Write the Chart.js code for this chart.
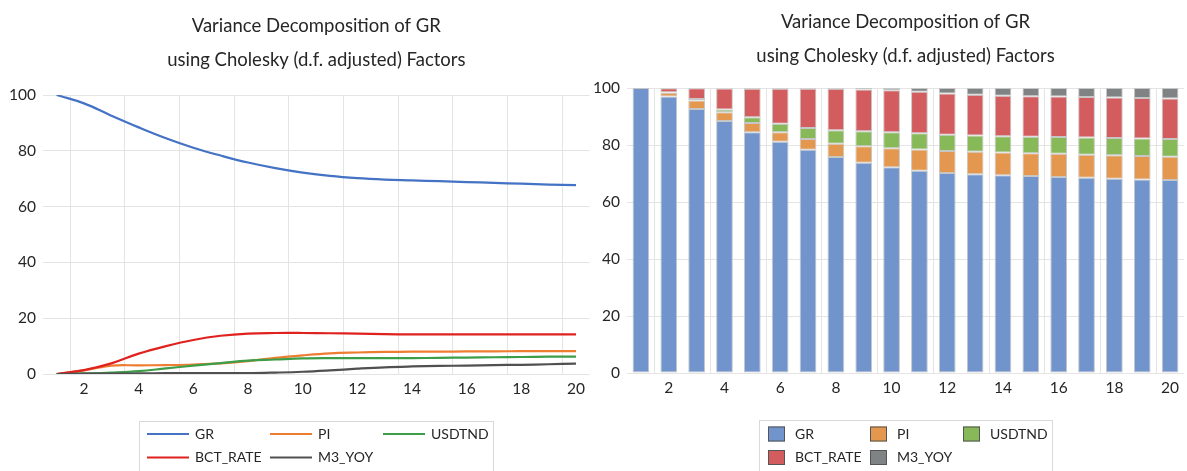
<!DOCTYPE html>
<html>
<head>
<meta charset="utf-8">
<script src="https://cdn.jsdelivr.net/npm/chart.js@4.4.0/dist/chart.umd.min.js"></script>
<style>
  body { margin: 0; background: #fff; }
  #wrap { position: relative; width: 1187px; height: 471px; overflow: hidden; }
  canvas { position: absolute; top: 0; }
</style>
</head>
<body>
<div id="wrap">
  <canvas id="lineChart" width="591" height="471" style="left:0"></canvas>
  <canvas id="barChart" width="596" height="471" style="left:591px"></canvas>
</div>
<script>
const periods = ["1", "2", "3", "4", "5", "6", "7", "8", "9", "10",
  "11", "12", "13", "14", "15", "16", "17", "18", "19", "20"];

const gr = [100, 97.0, 92.6, 88.4, 84.5, 81.1, 78.3, 75.8, 73.8, 72.2,
  71.0, 70.2, 69.7, 69.4, 69.1, 68.8, 68.5, 68.2, 67.9, 67.7];
const pi = [0, 1.3, 3.0, 3.1, 3.2, 3.4, 3.8, 4.6, 5.8, 6.7,
  7.4, 7.7, 7.9, 8.0, 8.0, 8.1, 8.1, 8.2, 8.2, 8.2];
const usdtnd = [0, 0.2, 0.5, 1.0, 2.0, 3.0, 3.9, 4.8, 5.2, 5.6,
  5.7, 5.7, 5.7, 5.7, 5.8, 5.9, 6.0, 6.1, 6.2, 6.2];
const bctRate = [0, 1.4, 3.8, 7.3, 10.0, 12.2, 13.7, 14.5, 14.7, 14.7,
  14.6, 14.5, 14.3, 14.2, 14.2, 14.2, 14.2, 14.2, 14.2, 14.2];
const m3Yoy = [0, 0.1, 0.1, 0.2, 0.3, 0.3, 0.3, 0.3, 0.5, 0.8,
  1.3, 1.9, 2.4, 2.7, 2.9, 3.0, 3.2, 3.3, 3.5, 3.7];

const seriesNames = ["GR", "PI", "USDTND", "BCT_RATE", "M3_YOY"];
const yTicks = [0, 20, 40, 60, 80, 100];
const titleLines = ["Variance Decomposition of GR", "using Cholesky (d.f. adjusted) Factors"];

const lineColors = ["#4472c4", "#ed7d31", "#3c9e48", "#e0221f", "#505050"];
const barColors = ["#7094cb", "#e4974f", "#87b958", "#d35c5e", "#7f8383"];

const FONT = "Lato";
const TEXT = "#262626";
const GRID = "#e4e4e4";

// legend drawn Excel-style: fixed grid of 3 columns, box outline
const boxLegend = {
  id: "boxLegend",
  afterDraw(chart, args, opts) {
    const ctx = chart.ctx;
    ctx.save();
    ctx.strokeStyle = "#d9d9d9";
    ctx.lineWidth = 1;
    ctx.strokeRect(opts.box[0] + 0.5, opts.box[1] + 0.5, opts.box[2], 80);
    ctx.font = "14px " + FONT;
    ctx.textBaseline = "middle";
    chart.data.datasets.forEach((ds, i) => {
      const x = opts.cols[i % 3];
      const y = opts.rows[Math.floor(i / 3)];
      if (opts.kind === "line") {
        ctx.strokeStyle = ds.borderColor;
        ctx.lineWidth = 2;
        ctx.beginPath();
        ctx.moveTo(x, y);
        ctx.lineTo(x + 42, y);
        ctx.stroke();
        ctx.fillStyle = TEXT;
        ctx.fillText(ds.label, x + 48, y);
      } else {
        ctx.fillStyle = ds.backgroundColor;
        ctx.fillRect(x, y - 7.5, 17, 15);
        ctx.strokeStyle = "#555";
        ctx.lineWidth = 1;
        ctx.strokeRect(x + 0.5, y - 7, 16, 14);
        ctx.fillStyle = TEXT;
        ctx.fillText(ds.label, x + 27, y);
      }
    });
    ctx.restore();
  }
};

function everyOtherGrid(c) {
  return c.index % 2 === 1 ? GRID : "rgba(0,0,0,0)";
}

function baseScales(yWidth) {
  return {
    x: {
      offset: true,
      grid: { offset: true, drawTicks: false, color: everyOtherGrid },
      border: { display: false },
      ticks: {
        autoSkip: false,
        maxRotation: 0,
        padding: 6,
        color: TEXT,
        font: { family: FONT, size: 15.5 },
        callback: (v, i) => (i % 2 === 1 ? periods[i] : "")
      },
      afterFit: (s) => { s.height = 30; }
    },
    y: {
      min: 0,
      max: 100,
      afterBuildTicks: (s) => { s.ticks = yTicks.map((v) => ({ value: v })); },
      grid: { color: GRID, drawTicks: false },
      border: { display: false },
      ticks: { padding: 7, color: TEXT, font: { family: FONT, size: 15.5 } },
      afterFit: (s) => { s.width = yWidth; }
    }
  };
}

function titleOpts(padTop, padBottom) {
  return {
    display: true,
    fullSize: false,
    text: titleLines,
    color: TEXT,
    font: { family: FONT, size: 18.5, weight: "normal", lineHeight: 34 / 18.5 },
    padding: { top: padTop, bottom: padBottom }
  };
}

const allSeries = [gr, pi, usdtnd, bctRate, m3Yoy];

new Chart(document.getElementById("lineChart").getContext("2d"), {
  type: "line",
  data: {
    labels: periods,
    datasets: allSeries.map((vals, i) => ({
      label: seriesNames[i],
      data: vals,
      borderColor: lineColors[i],
      backgroundColor: lineColors[i],
      borderWidth: 2.2,
      pointRadius: 0,
      tension: 0.4,
      order: 5 - i
    }))
  },
  options: {
    responsive: false,
    animation: false,
    layout: { padding: { left: 0, right: 1, top: 0, bottom: 67 } },
    scales: baseScales(43),
    plugins: {
      legend: { display: false },
      tooltip: { enabled: false },
      title: titleOpts(9, 18),
      boxLegend: { kind: "line", box: [139, 421, 354], cols: [147, 270, 383], rows: [434, 457.5] }
    }
  },
  plugins: [boxLegend]
});

new Chart(document.getElementById("barChart").getContext("2d"), {
  type: "bar",
  data: {
    labels: periods,
    datasets: allSeries.map((vals, i) => ({
      label: seriesNames[i],
      data: vals,
      backgroundColor: barColors[i],
      borderColor: "#c6c6c6",
      borderWidth: 1,
      borderSkipped: false,
      categoryPercentage: 1,
      barPercentage: 0.6
    }))
  },
  options: {
    responsive: false,
    animation: false,
    layout: { padding: { left: 0, right: 3, top: 0, bottom: 68 } },
    scales: (() => {
      const s = baseScales(36);
      s.x.stacked = true;
      s.y.stacked = true;
      return s;
    })(),
    plugins: {
      legend: { display: false },
      tooltip: { enabled: false },
      title: titleOpts(5, 15),
      boxLegend: { kind: "bar", box: [168, 420, 293], cols: [177, 279, 372], rows: [434, 457.5] }
    }
  },
  plugins: [boxLegend]
});
</script>
</body>
</html>
